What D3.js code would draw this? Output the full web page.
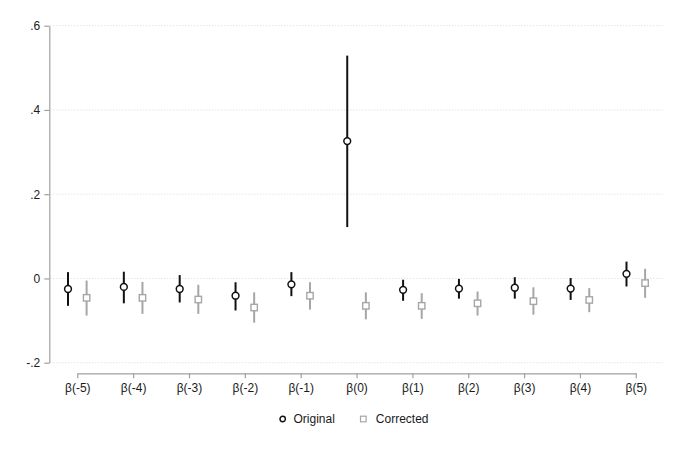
<!DOCTYPE html>
<html>
<head>
<meta charset="utf-8">
<title>Event study coefficients</title>
<style type="text/css">
	body { margin: 0; background: #fff; }
	#chart { width: 680px; height: 453px; }
	text { font-family: "Liberation Sans", Arial, sans-serif; font-size: 12px; fill: #1a1a1a; }
	.axis path, .axis line { stroke: #a0a0a0; stroke-width: 1.2px; }
	.grid line { stroke: #d9d9d9; stroke-width: 1px; stroke-dasharray: 1,2; }
</style>
</head>
<body>

<svg id="chart"></svg>

<script src="https://cdn.jsdelivr.net/npm/d3@7/dist/d3.min.js"></script>
<script>

var labels = ['β(-5)', 'β(-4)', 'β(-3)', 'β(-2)', 'β(-1)', 'β(0)', 'β(1)', 'β(2)', 'β(3)', 'β(4)', 'β(5)'];

var origEst = [-0.025, -0.020, -0.025, -0.041, -0.014, 0.326, -0.027, -0.024, -0.022, -0.024, 0.011];
var origLo  = [-0.065, -0.059, -0.057, -0.076, -0.042, 0.122, -0.053, -0.048, -0.048, -0.051, -0.019];
var origHi  = [ 0.015,  0.016,  0.008, -0.009,  0.015, 0.529, -0.003, -0.001,  0.003,  0.001,  0.040];

var corrEst = [-0.046, -0.046, -0.050, -0.069, -0.041, -0.065, -0.065, -0.059, -0.054, -0.051, -0.011];
var corrLo  = [-0.088, -0.084, -0.084, -0.105, -0.074, -0.097, -0.096, -0.088, -0.086, -0.080, -0.046];
var corrHi  = [-0.005, -0.008, -0.015, -0.033, -0.009, -0.033, -0.035, -0.031, -0.021, -0.023,  0.023];

var yTicks = [-0.2, 0, 0.2, 0.4, 0.6];
var yTickLabels = ['-.2', '0', '.2', '.4', '.6'];

var seriesNames = ['Original', 'Corrected'];

var svg = d3.select('#chart');

var plotLeft = 49.3,
	plotRight = 663,
	xStart = 77.3,
	xEnd = 635.8,
	axisY = 373.3,
	offset = 1 / 6;

var x = d3.scaleLinear().domain([0, labels.length - 1]).range([xStart, xEnd]);
var y = d3.scaleLinear().domain([-0.2, 0.6]).range([362.7, 25.7]);

// dotted gridlines
svg.append('g')
	.classed('grid', true)
	.selectAll('line')
	.data(yTicks)
	.enter()
	.append('line')
	.attr('x1', plotLeft + 1)
	.attr('x2', plotRight)
	.attr('y1', function(d) { return y(d); })
	.attr('y2', function(d) { return y(d); });

// y axis
var yAxis = d3.axisLeft(y)
	.tickValues(yTicks)
	.tickFormat(function(d, i) { return yTickLabels[i]; })
	.tickSize(5)
	.tickSizeOuter(0)
	.tickPadding(4);

svg.append('g')
	.classed('axis', true)
	.attr('transform', 'translate(' + plotLeft + ',0)')
	.call(yAxis)
	.call(function(g) { g.selectAll('text').style('font-size', '12px').attr('fill', '#1a1a1a'); });

// x axis
var xAxis = d3.axisBottom(x)
	.tickValues(d3.range(labels.length))
	.tickFormat(function(d) { return labels[d]; })
	.tickSize(5)
	.tickSizeOuter(0)
	.tickPadding(5);

svg.append('g')
	.classed('axis', true)
	.attr('transform', 'translate(0,' + axisY + ')')
	.call(xAxis)
	.call(function(g) { g.selectAll('text').style('font-size', '12px').attr('fill', '#1a1a1a'); });

// corrected series: gray bars and hollow squares
var corr = svg.append('g').classed('corrected', true);

corr.selectAll('line')
	.data(labels)
	.enter()
	.append('line')
	.attr('x1', function(d, i) { return x(i + offset); })
	.attr('x2', function(d, i) { return x(i + offset); })
	.attr('y1', function(d, i) { return y(corrLo[i]); })
	.attr('y2', function(d, i) { return y(corrHi[i]); })
	.attr('stroke', '#a6a6a6')
	.attr('stroke-width', 2);

corr.selectAll('rect')
	.data(labels)
	.enter()
	.append('rect')
	.attr('x', function(d, i) { return x(i + offset) - 3.2; })
	.attr('y', function(d, i) { return y(corrEst[i]) - 3.2; })
	.attr('width', 6.4)
	.attr('height', 6.4)
	.attr('fill', '#fff')
	.attr('stroke', '#a6a6a6')
	.attr('stroke-width', 1.4);

// original series: black bars and hollow circles
var orig = svg.append('g').classed('original', true);

orig.selectAll('line')
	.data(labels)
	.enter()
	.append('line')
	.attr('x1', function(d, i) { return x(i - offset); })
	.attr('x2', function(d, i) { return x(i - offset); })
	.attr('y1', function(d, i) { return y(origLo[i]); })
	.attr('y2', function(d, i) { return y(origHi[i]); })
	.attr('stroke', '#111')
	.attr('stroke-width', 2);

orig.selectAll('circle')
	.data(labels)
	.enter()
	.append('circle')
	.attr('cx', function(d, i) { return x(i - offset); })
	.attr('cy', function(d, i) { return y(origEst[i]); })
	.attr('r', 3.4)
	.attr('fill', '#fff')
	.attr('stroke', '#111')
	.attr('stroke-width', 1.5);

// legend
var legend = svg.append('g').attr('transform', 'translate(0,419)');

legend.append('circle')
	.attr('cx', 282.7)
	.attr('cy', 0)
	.attr('r', 2.7)
	.attr('fill', '#fff')
	.attr('stroke', '#111')
	.attr('stroke-width', 1.4);

legend.append('text')
	.attr('x', 293.5)
	.attr('y', 4.3)
	.text(seriesNames[0]);

legend.append('rect')
	.attr('x', 360.5)
	.attr('y', -2.8)
	.attr('width', 5.6)
	.attr('height', 5.6)
	.attr('fill', '#fff')
	.attr('stroke', '#a6a6a6')
	.attr('stroke-width', 1.2);

legend.append('text')
	.attr('x', 375.8)
	.attr('y', 4.3)
	.text(seriesNames[1]);

</script>

</body>
</html>
